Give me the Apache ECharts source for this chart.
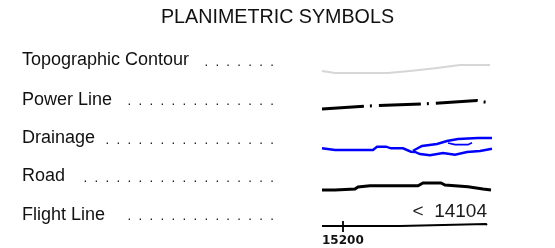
<!DOCTYPE html>
<html><head><meta charset="utf-8">
<script src="https://cdn.jsdelivr.net/npm/echarts@6/dist/echarts.min.js"></script>
<style>html,body{margin:0;padding:0;background:#fff}#c{width:555px;height:248px}</style>
</head><body><div id="c"></div>
<script>
var title = 'PLANIMETRIC SYMBOLS';
var labels = ['Topographic Contour', 'Power Line', 'Drainage', 'Road', 'Flight Line'];
var leaders = ['.  .  .  .  .  .  .', '.  .  .  .  .  .  .  .  .  .  .  .  .  .', '.  .  .  .  .  .  .  .  .  .  .  .  .  .  .  .', '.  .  .  .  .  .  .  .  .  .  .  .  .  .  .  .  .  .', '.  .  .  .  .  .  .  .  .  .  .  .  .  .'];
var rowY = [60.5, 100, 138.5, 176.5, 215];
// symbol lines (x along swatch, y down)
var contour = [[0,71],[13,73],[66,73],[88,71],[115,68],[138,65],[168,65]];
var power = [[0,109],[45,106],[110,103.5],[155,100.5],[168,103]];
var drainMain = [[0,148.3],[13,150],[51,150],[55,146.7],[64,146.7],[69,148.3],[81,148.3],[83,150],[89,151.7],[93,152],[98,154],[108,155.3],[121,153],[133,154.7],[145,152],[158,151],[160,149],[170,148.7]];
var drainUpper = [[91,150.7],[100,146],[115,144],[125,141],[136,139],[156,138],[170,138]];
var drainIsland = [[126,143],[133,144.7],[146,144.7],[150,142.8]];
var road = [[0,190],[13,190],[33,189],[36,187],[48,185.7],[96,185.7],[101,183],[119,183],[123,185],[146,186.7],[161,189],[169,190]];
var flight = [[0,226],[78,226],[80,224],[164,224],[165,225]];
var flightTick = [[21,221],[21,232]];
var flightStart = '15200';
var flightEnd = '<  14104';

var chart = echarts.init(document.getElementById('c'), null, {renderer:'canvas'});
function ln(data, color, width, type) {
  return {type:'line', data:data, showSymbol:false, symbol:'none', animation:false, silent:true,
    lineStyle:{color:color, width:width, type:type||'solid', cap:'butt', join:'miter'}};
}
var g = [];
g.push({type:'text', left:'center', top:8, style:{text:title, font:'19.7px "Liberation Sans", Arial, sans-serif', fill:'#111'}});
for (var i=0;i<labels.length;i++){
  g.push({type:'text', x:22, y:rowY[i], style:{text:labels[i], font:'18px "Liberation Sans", Arial, sans-serif', fill:'#111', textVerticalAlign:'middle', textAlign:'left'}});
  g.push({type:'text', x:274, y:rowY[i]+1.8, style:{text:leaders[i], font:'13.2px "Liberation Sans", Arial, sans-serif', fill:'#111', textVerticalAlign:'middle', textAlign:'right'}});
}
g.push({type:'text', x:487, y:212, style:{text:flightEnd, font:'19px "Liberation Sans", Arial, sans-serif', fill:'#1a1a1a', textVerticalAlign:'middle', textAlign:'right'}});
g.push({type:'text', x:322, y:240.5, style:{text:flightStart, font:'bold 12px "DejaVu Sans", sans-serif', fill:'#111', textVerticalAlign:'middle', textAlign:'left'}});

chart.setOption({
  animation:false,
  grid:{left:322, right:63, top:0, bottom:0},
  xAxis:{type:'value', min:0, max:170, show:false},
  yAxis:{type:'value', min:0, max:248, inverse:true, show:false},
  series:[
    ln(contour, '#d6d6d6', 2.2),
    ln(power, '#000', 3, [42,6,2,7]),
    ln(drainMain, '#0000ff', 2.4),
    ln(drainUpper, '#0000ff', 2.4),
    ln(drainIsland, '#0000ff', 1.8),
    ln(road, '#000', 3),
    ln(flight, '#000', 1.8),
    ln(flightTick, '#000', 1.8)
  ],
  graphic:g
});
</script></body></html>
